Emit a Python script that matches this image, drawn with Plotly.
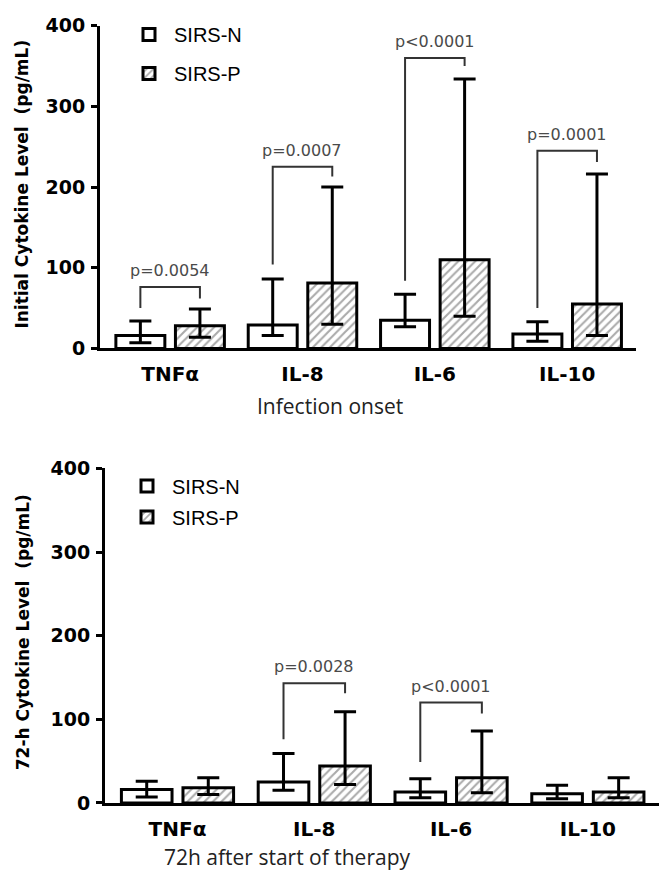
import plotly.graph_objects as go

# ---------------- data ----------------
categories = ["TNFα", "IL-8", "IL-6", "IL-10"]
cat_pos = [0, 1, 2, 3]
y_ticks = [0, 100, 200, 300, 400]

# Infection onset (bar value, lower/upper whisker)
onset_n = [16, 29, 35, 18]
onset_n_lo = [7, 16, 27, 9]
onset_n_hi = [34, 86, 67, 33]
onset_p = [28, 81, 110, 55]
onset_p_lo = [14, 30, 40, 16]
onset_p_hi = [49, 200, 334, 216]

# 72h after start of therapy
t72_n = [16, 25, 13, 11]
t72_n_lo = [7, 15, 6, 5]
t72_n_hi = [26, 59, 29, 21]
t72_p = [18, 44, 30, 13]
t72_p_lo = [10, 22, 12, 6]
t72_p_hi = [30, 109, 86, 30]

# significance brackets
onset_sig_cat = [0, 1, 2, 3]
onset_sig_text = ["p=0.0054", "p=0.0007", "p<0.0001", "p=0.0001"]
onset_sig_top = [76, 225, 360, 245]
onset_sig_left = [50, 104, 84, 50]
onset_sig_right = [62, 213, 350, 231]

t72_sig_cat = [1, 2]
t72_sig_text = ["p=0.0028", "p<0.0001"]
t72_sig_top = [143, 120]
t72_sig_left = [76, 49]
t72_sig_right = [131, 107]

# ---------------- styling ----------------
BAR_W = 0.37
OFF_N = -0.41
OFF_P = 0.04
LEG_N = OFF_N + BAR_W / 2
LEG_P = OFF_P + BAR_W / 2
YTICK_FONT = dict(family="DejaVu Sans", size=19, color="black", weight="bold")
XTICK_FONT = dict(family="DejaVu Sans", size=20, color="black", weight="bold")
P_FONT = dict(family="DejaVu Sans", size=16, color="#4a4a4a")
TITLE_FONT = dict(family="DejaVu Sans", size=17, color="black", weight="bold")
XT_FONT = dict(family="Open Sans", size=21, color="#222222")
LEG_FONT = dict(family="Liberation Sans, Arial", size=20, color="black")

fig = go.Figure()


def add_panel(xa, ya, legend, vn, vn_lo, vn_hi, vp, vp_lo, vp_hi):
    fig.add_trace(go.Bar(
        x=cat_pos, y=vn, width=BAR_W, offset=OFF_N, name="SIRS-N",
        xaxis=xa, yaxis=ya, legend=legend, legendgroup=legend + "n",
        marker=dict(color="white", line=dict(color="black", width=3)),
        error_y=dict(type="data", symmetric=False,
                     array=[h - v for h, v in zip(vn_hi, vn)],
                     arrayminus=[v - l for v, l in zip(vn, vn_lo)],
                     color="black", thickness=3, width=11),
    ))
    fig.add_trace(go.Bar(
        x=cat_pos, y=vp, width=BAR_W, offset=OFF_P, name="SIRS-P",
        xaxis=xa, yaxis=ya, legend=legend, legendgroup=legend + "p",
        marker=dict(color="white", line=dict(color="black", width=3),
                    pattern=dict(shape="/", fgcolor="#555555", bgcolor="white",
                                 size=6, solidity=0.35)),
        error_y=dict(type="data", symmetric=False,
                     array=[h - v for h, v in zip(vp_hi, vp)],
                     arrayminus=[v - l for v, l in zip(vp, vp_lo)],
                     color="black", thickness=3, width=11),
    ))


def add_brackets(xa, ya, cats, texts, tops, lefts, rights):
    for c, t, top, lb, rb in zip(cats, texts, tops, lefts, rights):
        fig.add_trace(go.Scatter(
            x=[c + LEG_N, c + LEG_N, c + LEG_P, c + LEG_P],
            y=[lb, top, top, rb], mode="lines",
            line=dict(color="#333333", width=2), showlegend=False,
            xaxis=xa, yaxis=ya, hoverinfo="skip",
        ))
        fig.add_annotation(x=c, y=top, xref=xa, yref=ya, text=t,
                           showarrow=False, xanchor="center",
                           yanchor="bottom", yshift=5, font=P_FONT)


add_panel("x", "y", "legend", onset_n, onset_n_lo, onset_n_hi,
          onset_p, onset_p_lo, onset_p_hi)
add_panel("x2", "y2", "legend2", t72_n, t72_n_lo, t72_n_hi,
          t72_p, t72_p_lo, t72_p_hi)
add_brackets("x", "y", onset_sig_cat, onset_sig_text, onset_sig_top,
             onset_sig_left, onset_sig_right)
add_brackets("x2", "y2", t72_sig_cat, t72_sig_text, t72_sig_top,
             t72_sig_left, t72_sig_right)

W, H = 668, 888
xdom1 = [100 / W, 636 / W]
ydom1 = [1 - 346 / H, 1 - 15 / H]
xdom2 = [105 / W, 659 / W]
ydom2 = [1 - 812 / H, 1 - 469 / H]

xcommon = dict(range=[-0.53, 3.52], tickvals=cat_pos, ticktext=categories,
               showline=True, linecolor="black", linewidth=3, ticks="",
               showgrid=False, zeroline=False, tickfont=XTICK_FONT,
               ticklabelstandoff=6, fixedrange=True)
ycommon = dict(range=[0, 400], tickvals=y_ticks, showline=True,
               linecolor="black", linewidth=3, ticks="outside", ticklen=6,
               tickwidth=2.5, tickcolor="black", showgrid=False,
               zeroline=False, tickfont=YTICK_FONT, ticklabelstandoff=2,
               fixedrange=True)

fig.update_layout(
    width=W, height=H,
    margin=dict(l=0, r=0, t=0, b=0),
    paper_bgcolor="white", plot_bgcolor="white",
    barmode="overlay",
    showlegend=True,
    xaxis=dict(domain=xdom1, anchor="y", **xcommon),
    yaxis=dict(domain=ydom1, anchor="x", **ycommon),
    xaxis2=dict(domain=xdom2, anchor="y2", **xcommon),
    yaxis2=dict(domain=ydom2, anchor="x2", **ycommon),
    legend=dict(x=124 / W, y=1 - 4 / H, xanchor="left", yanchor="top",
                font=LEG_FONT, tracegroupgap=10,
                bgcolor="rgba(0,0,0,0)", itemwidth=40),
    legend2=dict(x=122 / W, y=1 - 467 / H, xanchor="left", yanchor="top",
                 font=LEG_FONT, tracegroupgap=2,
                 bgcolor="rgba(0,0,0,0)", itemwidth=40),
)

# axis titles
fig.add_annotation(x=22 / W, y=1 - 178 / H, xref="paper", yref="paper",
                   xanchor="center", yanchor="middle",
                   text="Initial Cytokine Level  (pg/mL)", textangle=-90,
                   showarrow=False, font=TITLE_FONT)
fig.add_annotation(x=23 / W, y=1 - 637 / H, xref="paper", yref="paper",
                   xanchor="center", yanchor="middle",
                   text="72-h Cytokine Level  (pg/mL)", textangle=-90,
                   showarrow=False, font=TITLE_FONT)
fig.add_annotation(x=330 / W, y=1 - 405 / H, xref="paper", yref="paper",
                   xanchor="center", yanchor="middle",
                   text="Infection onset", showarrow=False, font=XT_FONT)
fig.add_annotation(x=287 / W, y=1 - 867 / H, xref="paper", yref="paper",
                   xanchor="center", yanchor="middle",
                   text="72h after start of therapy", showarrow=False,
                   font=XT_FONT)

fig.write_html("out.html",
               config={"displayModeBar": False},
               post_script="document.body.style.margin='0px';")
